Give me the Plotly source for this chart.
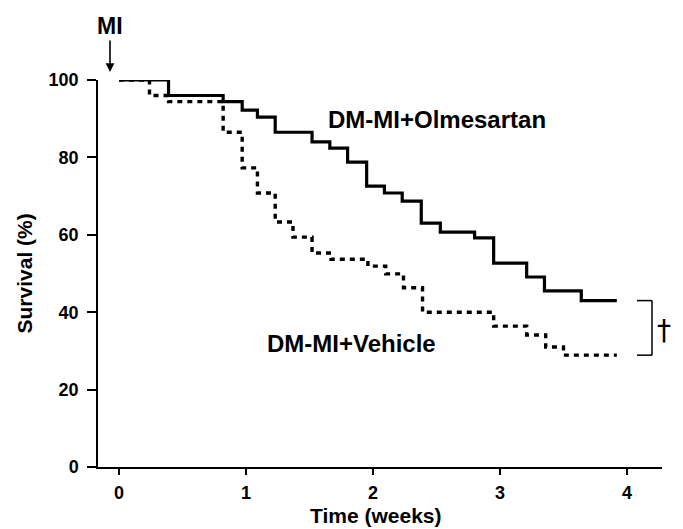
import plotly.graph_objects as go

# ---- data ----
olm_weeks = [0, 0.39, 0.82, 0.97, 1.09, 1.23, 1.52, 1.66, 1.80, 1.95, 2.09, 2.23,
             2.38, 2.53, 2.80, 2.95, 3.21, 3.35, 3.64, 3.92]
olm_surv = [100, 96, 94.4, 92.2, 90.4, 86.5, 84, 82.4, 78.8, 72.6, 70.8, 68.7,
            63, 60.7, 59.2, 52.7, 49.1, 45.5, 43.0, 43.0]

veh_weeks = [0, 0.24, 0.39, 0.82, 0.97, 1.09, 1.23, 1.37, 1.52, 1.67, 1.96, 2.10,
             2.24, 2.39, 2.95, 3.21, 3.36, 3.50, 3.92]
veh_surv = [100, 96, 94.4, 86.5, 77.3, 70.8, 63.3, 59.4, 55.3, 53.7, 51.9, 49.9,
            46.3, 40, 36.4, 34.1, 31, 28.9, 28.9]

x_ticks = [0, 1, 2, 3, 4]
y_ticks = [0, 20, 40, 60, 80, 100]

olm_label = "DM-MI+Olmesartan"
veh_label = "DM-MI+Vehicle"
x_title = "Time (weeks)"
y_title = "Survival (%)"

FONT = "Liberation Sans, Arial, Helvetica, sans-serif"

fig = go.Figure()
fig.add_trace(go.Scatter(x=olm_weeks, y=olm_surv, mode="lines", line_shape="hv",
                         line=dict(color="black", width=3.2), name=olm_label,
                         showlegend=False))
fig.add_trace(go.Scatter(x=veh_weeks, y=veh_surv, mode="lines", line_shape="hv",
                         line=dict(color="black", width=3.4, dash="5px,5px"),
                         name=veh_label, showlegend=False))

# page body has an 8px margin: the figure is offset by (8, 8) in the window
OFF = 8
px_per_week = 127.0
x0_px = 119.0
left_px, right_px = 98.0, 662.0
top_px, bot_px = 80.0, 467.0
xr = [(left_px - x0_px) / px_per_week, (right_px - x0_px) / px_per_week]
pw = right_px - left_px
ph = bot_px - top_px

fig.update_layout(
    width=683 - OFF, height=529 - OFF,
    margin=dict(l=left_px - OFF, r=683 - right_px, t=top_px - OFF, b=529 - bot_px),
    paper_bgcolor="white", plot_bgcolor="white",
    font=dict(family=FONT, color="black"),
    xaxis=dict(range=xr, tickvals=x_ticks, ticktext=[str(v) for v in x_ticks],
               showgrid=False, zeroline=False, showline=True, linecolor="black",
               linewidth=2, ticks="outside", ticklen=6, tickwidth=1.5,
               tickcolor="black", ticklabelstandoff=2,
               tickfont=dict(size=18, family=FONT, weight="bold", color="black")),
    yaxis=dict(range=[0, 100], tickvals=y_ticks, ticktext=[str(v) for v in y_ticks],
               showgrid=False, zeroline=False, showline=True, linecolor="black",
               linewidth=1.5, ticks="outside", ticklen=9, tickwidth=1.5,
               tickcolor="black", ticklabelstandoff=5,
               tickfont=dict(size=18, family=FONT, weight="bold", color="black")),
)

# extend x-axis line slightly left of the y axis
fig.add_shape(type="line", xref="paper", yref="paper", x0=-0.011, x1=0, y0=0, y1=0,
              line=dict(color="black", width=2))

# bracket between final survival values
bx0 = (637 - x0_px) / px_per_week
bx1 = (652 - x0_px) / px_per_week
ytop = olm_surv[-1]
ybot = veh_surv[-1]
for (xa, ya, xb, yb) in [(bx0, ytop, bx1, ytop), (bx1, ytop, bx1, ybot), (bx0, ybot, bx1, ybot)]:
    fig.add_shape(type="line", xref="x", yref="y", x0=xa, y0=ya, x1=xb, y1=yb,
                  line=dict(color="black", width=1.5))


def px_x(p):
    return (p - left_px) / pw


def px_y(p):
    return (bot_px - p) / ph


annos = [
    dict(text=olm_label, x=2.50, y=89.8, xref="x", yref="y", showarrow=False,
         font=dict(size=24, family=FONT, weight="bold", color="black")),
    dict(text=veh_label, x=1.83, y=32.0, xref="x", yref="y", showarrow=False,
         font=dict(size=24, family=FONT, weight="bold", color="black")),
    dict(text="†", x=px_x(673), y=px_y(330),
         xref="paper", yref="paper", showarrow=False,
         font=dict(size=28, family="DejaVu Sans, " + FONT, color="black")),
    dict(text="MI", x=px_x(110), y=px_y(72),
         xref="paper", yref="paper", showarrow=True, ax=0, ay=-46,
         arrowhead=2, arrowsize=1.1, arrowwidth=1.6, arrowcolor="black",
         font=dict(size=23, family=FONT, weight="bold", color="black")),
    dict(text=x_title, x=px_x(376), y=px_y(515),
         xref="paper", yref="paper", showarrow=False, yanchor="middle",
         font=dict(size=21, family=FONT, weight="bold", color="black")),
    dict(text=y_title, x=px_x(24), y=0.5,
         xref="paper", yref="paper", showarrow=False, textangle=-90,
         xanchor="center", yanchor="middle",
         font=dict(size=21, family=FONT, weight="bold", color="black")),
]
fig.update_layout(annotations=annos)

fig.write_html("out.html")
